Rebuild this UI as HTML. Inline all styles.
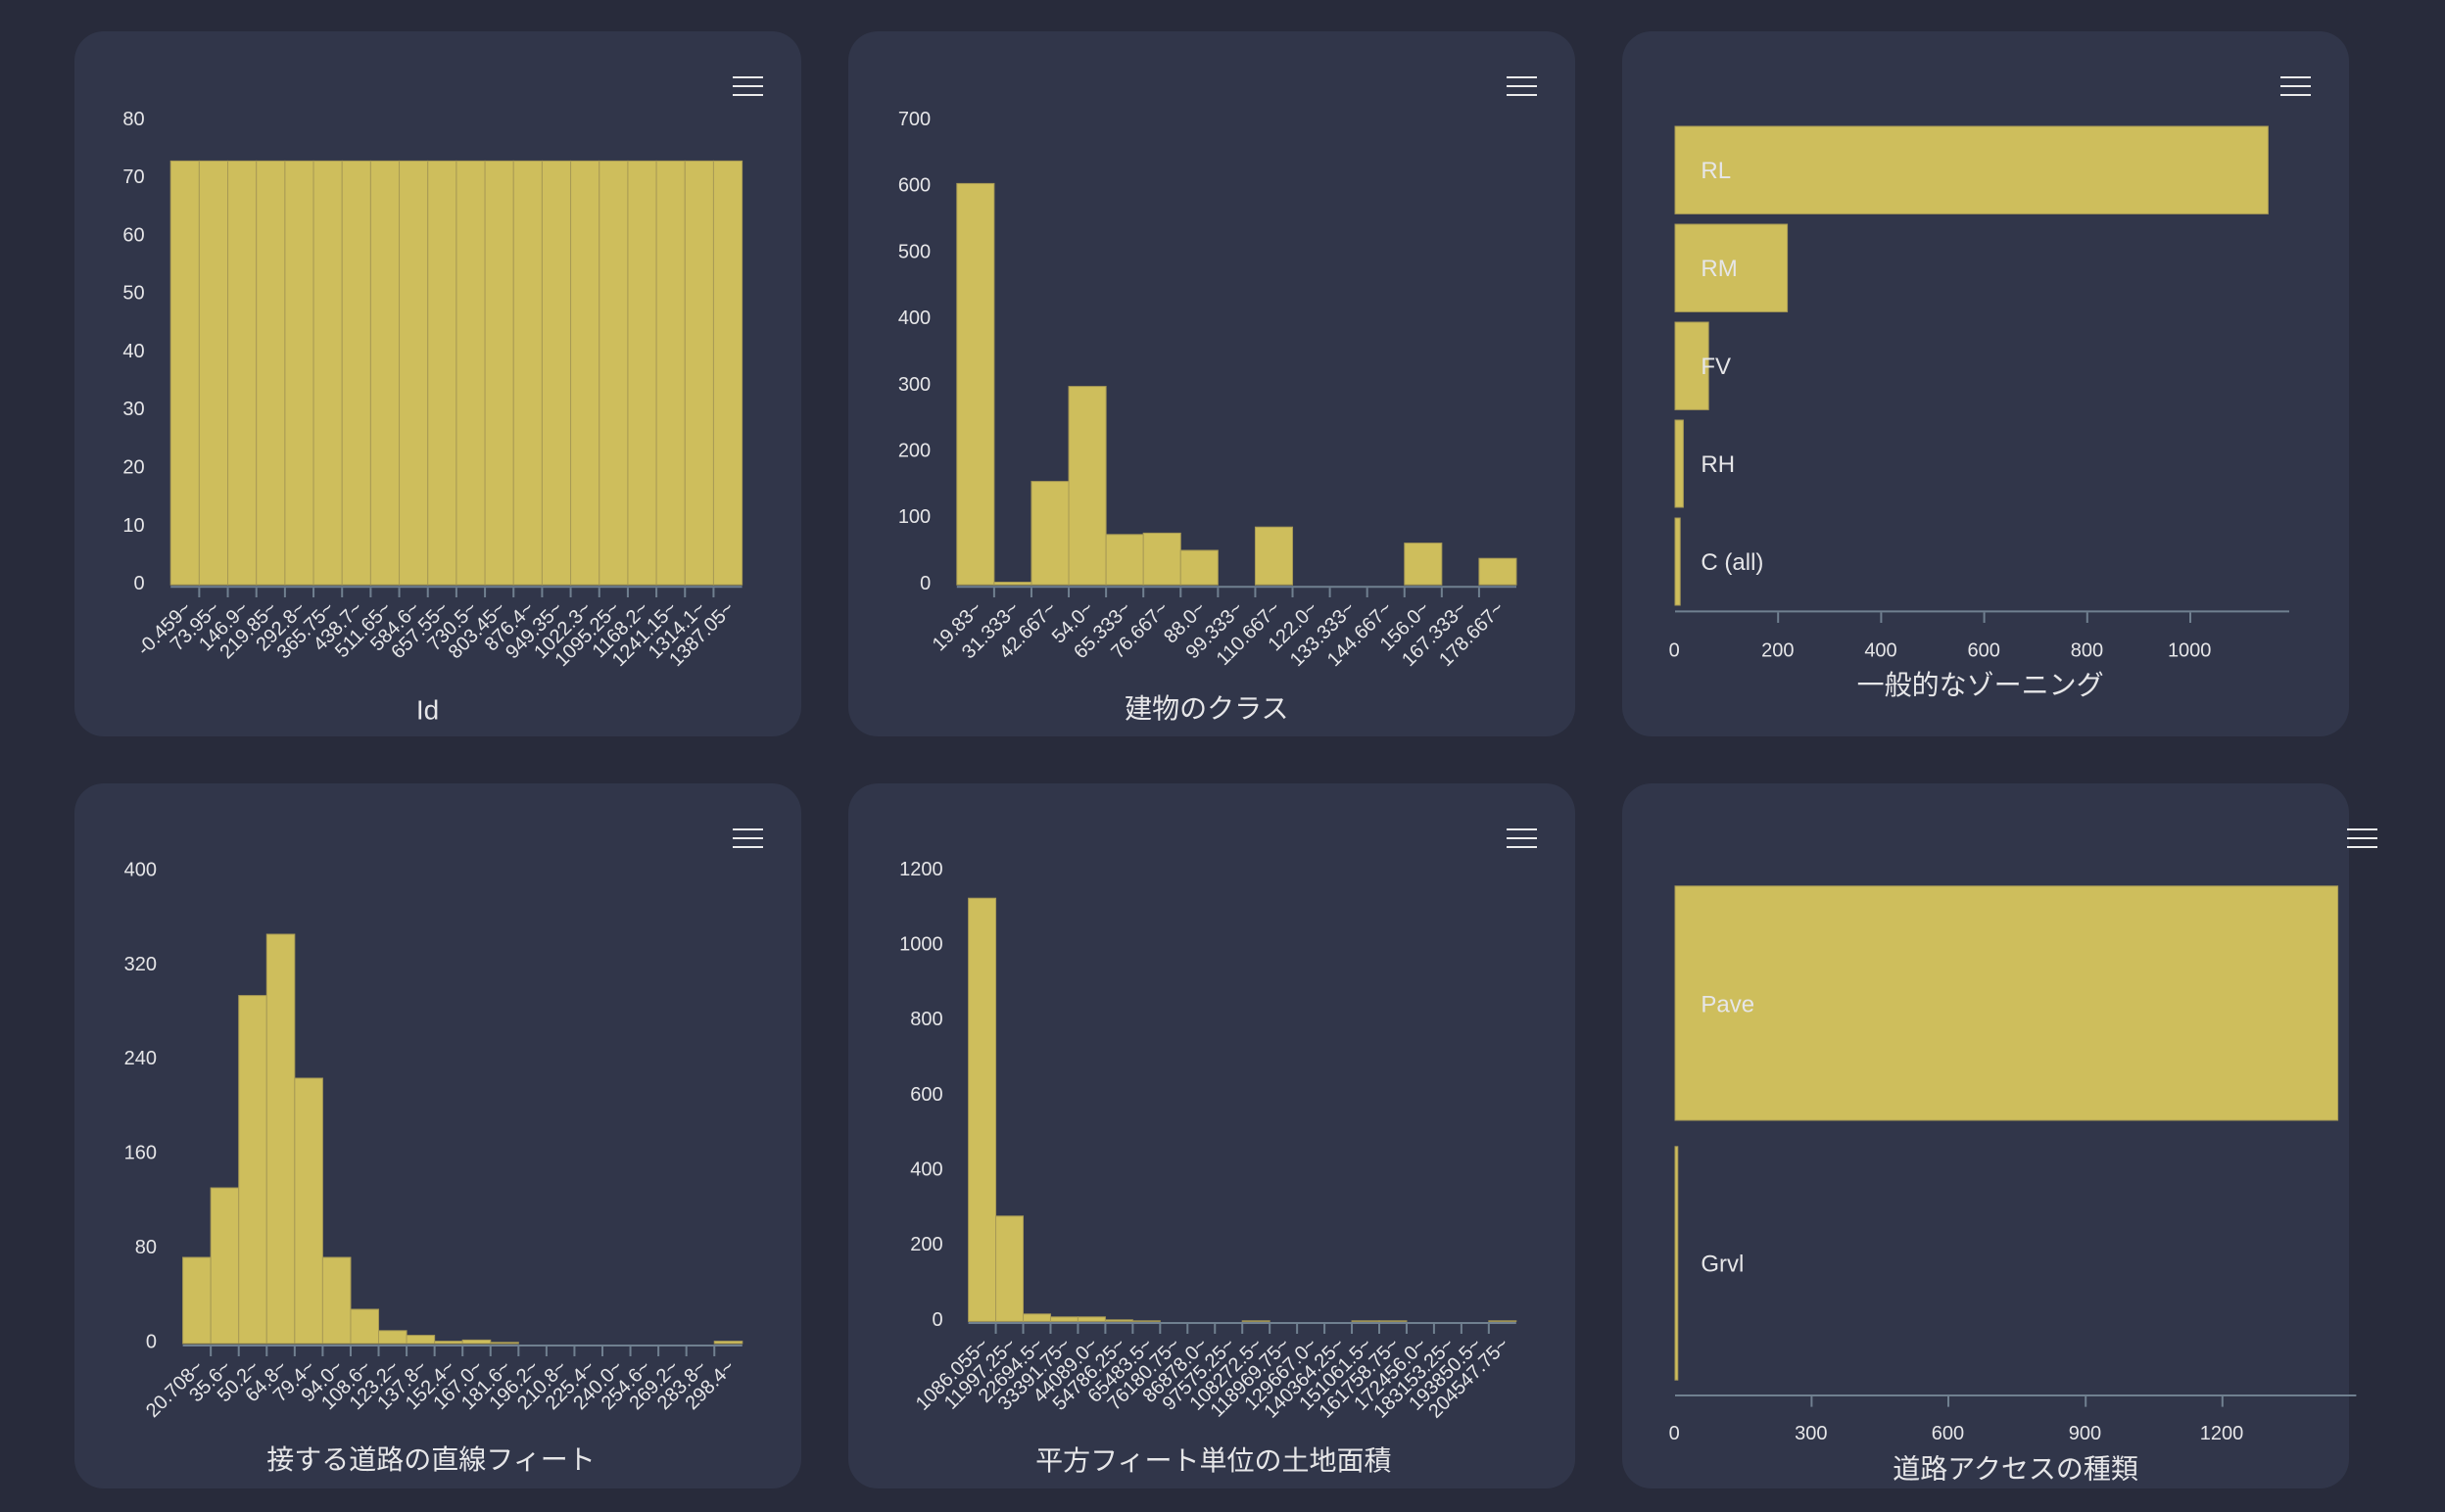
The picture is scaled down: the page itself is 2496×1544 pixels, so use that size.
<!DOCTYPE html>
<html><head><meta charset="utf-8"><style>
html,body{margin:0;padding:0;background:#282b3b;}
svg{display:block;}
text{font-family:"Liberation Sans","Noto Sans CJK JP",sans-serif;fill:#e6e6e8;}
.ax{font-size:10px;}
.xl{font-size:10px;}
.cat{font-size:12px;}
.ttl{font-size:14px;}
.bar{fill:#cebe5c;stroke:#a89a55;stroke-width:0.5;}
.axl{stroke:#708090;stroke-width:1;}
.tk{stroke:#708090;stroke-width:1;}
.hb{fill:#ececec;}
</style></head><body>
<svg width="2496" height="1544" viewBox="0 0 1248 772" xmlns="http://www.w3.org/2000/svg">
<rect x="0" y="0" width="1248" height="772" fill="#282b3b"/>
<!-- panels -->
<rect x="38" y="16" width="371" height="360" rx="15" fill="#31364a"/>
<rect x="433" y="16" width="371" height="360" rx="15" fill="#31364a"/>
<rect x="828" y="16" width="371" height="360" rx="15" fill="#31364a"/>
<rect x="38" y="400" width="371" height="360" rx="15" fill="#31364a"/>
<rect x="433" y="400" width="371" height="360" rx="15" fill="#31364a"/>
<rect x="828" y="400" width="371" height="360" rx="15" fill="#31364a"/>

<!-- hamburgers -->
<g class="hb">
<rect x="374" y="39" width="15.5" height="1"/><rect x="374" y="43.5" width="15.5" height="1"/><rect x="374" y="48" width="15.5" height="1"/>
<rect x="769" y="39" width="15.5" height="1"/><rect x="769" y="43.5" width="15.5" height="1"/><rect x="769" y="48" width="15.5" height="1"/>
<rect x="1164" y="39" width="15.5" height="1"/><rect x="1164" y="43.5" width="15.5" height="1"/><rect x="1164" y="48" width="15.5" height="1"/>
<rect x="374" y="423" width="15.5" height="1"/><rect x="374" y="427.5" width="15.5" height="1"/><rect x="374" y="432" width="15.5" height="1"/>
<rect x="769" y="423" width="15.5" height="1"/><rect x="769" y="427.5" width="15.5" height="1"/><rect x="769" y="432" width="15.5" height="1"/>
<rect x="1198" y="423" width="15.5" height="1"/><rect x="1198" y="427.5" width="15.5" height="1"/><rect x="1198" y="432" width="15.5" height="1"/>
</g>

<!-- ============ PANEL 1: Id ============ -->
<g class="ax" text-anchor="end">
<text x="73.8" y="301.0">0</text><text x="73.8" y="271.4">10</text><text x="73.8" y="241.7">20</text><text x="73.8" y="212.1">30</text><text x="73.8" y="182.5">40</text><text x="73.8" y="152.8">50</text><text x="73.8" y="123.2">60</text><text x="73.8" y="93.5">70</text><text x="73.8" y="63.9">80</text>
</g>
<g>
<rect class="bar" x="87.10" y="82.2" width="14.585" height="216.4"/>
<rect class="bar" x="101.69" y="82.2" width="14.585" height="216.4"/>
<rect class="bar" x="116.27" y="82.2" width="14.585" height="216.4"/>
<rect class="bar" x="130.86" y="82.2" width="14.585" height="216.4"/>
<rect class="bar" x="145.44" y="82.2" width="14.585" height="216.4"/>
<rect class="bar" x="160.03" y="82.2" width="14.585" height="216.4"/>
<rect class="bar" x="174.61" y="82.2" width="14.585" height="216.4"/>
<rect class="bar" x="189.20" y="82.2" width="14.585" height="216.4"/>
<rect class="bar" x="203.78" y="82.2" width="14.585" height="216.4"/>
<rect class="bar" x="218.37" y="82.2" width="14.585" height="216.4"/>
<rect class="bar" x="232.95" y="82.2" width="14.585" height="216.4"/>
<rect class="bar" x="247.54" y="82.2" width="14.585" height="216.4"/>
<rect class="bar" x="262.12" y="82.2" width="14.585" height="216.4"/>
<rect class="bar" x="276.71" y="82.2" width="14.585" height="216.4"/>
<rect class="bar" x="291.29" y="82.2" width="14.585" height="216.4"/>
<rect class="bar" x="305.88" y="82.2" width="14.585" height="216.4"/>
<rect class="bar" x="320.46" y="82.2" width="14.585" height="216.4"/>
<rect class="bar" x="335.05" y="82.2" width="14.585" height="216.4"/>
<rect class="bar" x="349.63" y="82.2" width="14.585" height="216.4"/>
<rect class="bar" x="364.22" y="82.2" width="14.585" height="216.4"/>
</g>
<line class="axl" x1="87.1" y1="299.6" x2="378.8" y2="299.6"/>
<path class="tk" d="M101.69 300.1V305M116.27 300.1V305M130.86 300.1V305M145.44 300.1V305M160.03 300.1V305M174.61 300.1V305M189.2 300.1V305M203.78 300.1V305M218.37 300.1V305M232.95 300.1V305M247.54 300.1V305M262.12 300.1V305M276.71 300.1V305M291.29 300.1V305M305.88 300.1V305M320.46 300.1V305M335.05 300.1V305M349.63 300.1V305M364.22 300.1V305"/>
<g class="xl" text-anchor="end">
<text transform="translate(98.19,311.1) rotate(-45)">-0.459~</text>
<text transform="translate(112.78,311.1) rotate(-45)">73.95~</text>
<text transform="translate(127.36,311.1) rotate(-45)">146.9~</text>
<text transform="translate(141.95,311.1) rotate(-45)">219.85~</text>
<text transform="translate(156.53,311.1) rotate(-45)">292.8~</text>
<text transform="translate(171.12,311.1) rotate(-45)">365.75~</text>
<text transform="translate(185.70,311.1) rotate(-45)">438.7~</text>
<text transform="translate(200.29,311.1) rotate(-45)">511.65~</text>
<text transform="translate(214.87,311.1) rotate(-45)">584.6~</text>
<text transform="translate(229.46,311.1) rotate(-45)">657.55~</text>
<text transform="translate(244.04,311.1) rotate(-45)">730.5~</text>
<text transform="translate(258.63,311.1) rotate(-45)">803.45~</text>
<text transform="translate(273.21,311.1) rotate(-45)">876.4~</text>
<text transform="translate(287.80,311.1) rotate(-45)">949.35~</text>
<text transform="translate(302.38,311.1) rotate(-45)">1022.3~</text>
<text transform="translate(316.97,311.1) rotate(-45)">1095.25~</text>
<text transform="translate(331.55,311.1) rotate(-45)">1168.2~</text>
<text transform="translate(346.14,311.1) rotate(-45)">1241.15~</text>
<text transform="translate(360.72,311.1) rotate(-45)">1314.1~</text>
<text transform="translate(375.31,311.1) rotate(-45)">1387.05~</text>
</g>
<text class="ttl" x="218.3" y="362.4" text-anchor="middle" dominant-baseline="central">Id</text>

<!-- ============ PANEL 2: 建物のクラス ============ -->
<g class="ax" text-anchor="end">
<text x="475.1" y="301.0">0</text><text x="475.1" y="267.1">100</text><text x="475.1" y="233.3">200</text><text x="475.1" y="199.4">300</text><text x="475.1" y="165.5">400</text><text x="475.1" y="131.7">500</text><text x="475.1" y="97.8">600</text><text x="475.1" y="63.9">700</text>
</g>
<g>
<rect class="bar" x="488.40" y="93.7" width="19.04" height="204.9"/>
<rect class="bar" x="507.44" y="297.25" width="19.04" height="1.35"/>
<rect class="bar" x="526.48" y="245.8" width="19.04" height="52.8"/>
<rect class="bar" x="545.52" y="197.3" width="19.04" height="101.3"/>
<rect class="bar" x="564.56" y="272.9" width="19.04" height="25.7"/>
<rect class="bar" x="583.60" y="272.2" width="19.04" height="26.4"/>
<rect class="bar" x="602.64" y="281.0" width="19.04" height="17.6"/>
<rect class="bar" x="640.72" y="269.1" width="19.04" height="29.5"/>
<rect class="bar" x="716.88" y="277.3" width="19.04" height="21.3"/>
<rect class="bar" x="754.96" y="285.1" width="19.04" height="13.5"/>
</g>
<line class="axl" x1="488.4" y1="299.6" x2="774" y2="299.6"/>
<path class="tk" d="M507.44 300.1V305M526.48 300.1V305M545.52 300.1V305M564.56 300.1V305M583.6 300.1V305M602.64 300.1V305M621.68 300.1V305M640.72 300.1V305M659.76 300.1V305M678.8 300.1V305M697.84 300.1V305M716.88 300.1V305M735.92 300.1V305M754.96 300.1V305"/>
<g class="xl" text-anchor="end">
<text transform="translate(501.72,311.1) rotate(-45)">19.83~</text>
<text transform="translate(520.76,311.1) rotate(-45)">31.333~</text>
<text transform="translate(539.80,311.1) rotate(-45)">42.667~</text>
<text transform="translate(558.84,311.1) rotate(-45)">54.0~</text>
<text transform="translate(577.88,311.1) rotate(-45)">65.333~</text>
<text transform="translate(596.92,311.1) rotate(-45)">76.667~</text>
<text transform="translate(615.96,311.1) rotate(-45)">88.0~</text>
<text transform="translate(635.00,311.1) rotate(-45)">99.333~</text>
<text transform="translate(654.04,311.1) rotate(-45)">110.667~</text>
<text transform="translate(673.08,311.1) rotate(-45)">122.0~</text>
<text transform="translate(692.12,311.1) rotate(-45)">133.333~</text>
<text transform="translate(711.16,311.1) rotate(-45)">144.667~</text>
<text transform="translate(730.20,311.1) rotate(-45)">156.0~</text>
<text transform="translate(749.24,311.1) rotate(-45)">167.333~</text>
<text transform="translate(768.28,311.1) rotate(-45)">178.667~</text>
</g>
<text class="ttl" x="615.9" y="361.8" text-anchor="middle" dominant-baseline="central">建物のクラス</text>

<!-- ============ PANEL 3: 一般的なゾーニング ============ -->
<g>
<rect class="bar" x="855" y="64.5" width="302.7" height="44.7"/>
<rect class="bar" x="855" y="114.5" width="57.3" height="44.7"/>
<rect class="bar" x="855" y="164.5" width="17.1" height="44.7"/>
<rect class="bar" x="855" y="214.5" width="4.2" height="44.5"/>
<rect class="bar" x="855" y="264.5" width="2.6" height="44.5"/>
</g>
<g class="cat">
<text x="868.2" y="91.1">RL</text>
<text x="868.2" y="141.1">RM</text>
<text x="868.2" y="191.1">FV</text>
<text x="868.2" y="241.1">RH</text>
<text x="868.2" y="291.1">C (all)</text>
</g>
<line class="axl" x1="855" y1="312.2" x2="1168.5" y2="312.2"/>
<path class="tk" d="M907.6 312.7V318M960.2 312.7V318M1012.8 312.7V318M1065.4 312.7V318M1118 312.7V318"/>
<g class="ax" text-anchor="middle">
<text x="854.6" y="335.3">0</text><text x="907.4" y="335.3">200</text><text x="960.0" y="335.3">400</text><text x="1012.6" y="335.3">600</text><text x="1065.2" y="335.3">800</text><text x="1117.6" y="335.3">1000</text>
</g>
<text class="ttl" x="1010.8" y="349.7" text-anchor="middle" dominant-baseline="central">一般的なゾーニング</text>

<!-- ============ PANEL 4: 接する道路の直線フィート ============ -->
<g class="ax" text-anchor="end">
<text x="80" y="688.2">0</text><text x="80" y="640.0">80</text><text x="80" y="591.8">160</text><text x="80" y="543.6">240</text><text x="80" y="495.5">320</text><text x="80" y="447.3">400</text>
</g>
<g>
<rect class="bar" x="93.30" y="642.0" width="14.28" height="44.0"/>
<rect class="bar" x="107.58" y="606.5" width="14.28" height="79.5"/>
<rect class="bar" x="121.86" y="508.3" width="14.28" height="177.7"/>
<rect class="bar" x="136.14" y="477.0" width="14.28" height="209.0"/>
<rect class="bar" x="150.42" y="550.5" width="14.28" height="135.5"/>
<rect class="bar" x="164.70" y="642.0" width="14.28" height="44.0"/>
<rect class="bar" x="178.98" y="668.5" width="14.28" height="17.5"/>
<rect class="bar" x="193.26" y="679.4" width="14.28" height="6.6"/>
<rect class="bar" x="207.54" y="681.8" width="14.28" height="4.2"/>
<rect class="bar" x="221.82" y="684.8" width="14.28" height="1.2"/>
<rect class="bar" x="236.10" y="684.2" width="14.28" height="1.8"/>
<rect class="bar" x="250.38" y="685.4" width="14.28" height="0.6"/>
<rect class="bar" x="364.62" y="684.8" width="14.28" height="1.2"/>
</g>
<line class="axl" x1="93.3" y1="687" x2="378.9" y2="687"/>
<path class="tk" d="M107.58 687.5V692.5M121.86 687.5V692.5M136.14 687.5V692.5M150.42 687.5V692.5M164.7 687.5V692.5M178.98 687.5V692.5M193.26 687.5V692.5M207.54 687.5V692.5M221.82 687.5V692.5M236.1 687.5V692.5M250.38 687.5V692.5M264.66 687.5V692.5M278.94 687.5V692.5M293.22 687.5V692.5M307.5 687.5V692.5M321.78 687.5V692.5M336.06 687.5V692.5M350.34 687.5V692.5M364.62 687.5V692.5"/>
<g class="xl" text-anchor="end">
<text transform="translate(104.24,698.5) rotate(-45)">20.708~</text>
<text transform="translate(118.52,698.5) rotate(-45)">35.6~</text>
<text transform="translate(132.80,698.5) rotate(-45)">50.2~</text>
<text transform="translate(147.08,698.5) rotate(-45)">64.8~</text>
<text transform="translate(161.36,698.5) rotate(-45)">79.4~</text>
<text transform="translate(175.64,698.5) rotate(-45)">94.0~</text>
<text transform="translate(189.92,698.5) rotate(-45)">108.6~</text>
<text transform="translate(204.20,698.5) rotate(-45)">123.2~</text>
<text transform="translate(218.48,698.5) rotate(-45)">137.8~</text>
<text transform="translate(232.76,698.5) rotate(-45)">152.4~</text>
<text transform="translate(247.04,698.5) rotate(-45)">167.0~</text>
<text transform="translate(261.32,698.5) rotate(-45)">181.6~</text>
<text transform="translate(275.60,698.5) rotate(-45)">196.2~</text>
<text transform="translate(289.88,698.5) rotate(-45)">210.8~</text>
<text transform="translate(304.16,698.5) rotate(-45)">225.4~</text>
<text transform="translate(318.44,698.5) rotate(-45)">240.0~</text>
<text transform="translate(332.72,698.5) rotate(-45)">254.6~</text>
<text transform="translate(347.00,698.5) rotate(-45)">269.2~</text>
<text transform="translate(361.28,698.5) rotate(-45)">283.8~</text>
<text transform="translate(375.56,698.5) rotate(-45)">298.4~</text>
</g>
<text class="ttl" x="220" y="745.2" text-anchor="middle" dominant-baseline="central">接する道路の直線フィート</text>

<!-- ============ PANEL 5: 平方フィート単位の土地面積 ============ -->
<g class="ax" text-anchor="end">
<text x="481.3" y="676.9">0</text><text x="481.3" y="638.6">200</text><text x="481.3" y="600.3">400</text><text x="481.3" y="562.0">600</text><text x="481.3" y="523.6">800</text><text x="481.3" y="485.3">1000</text><text x="481.3" y="447.0">1200</text>
</g>
<g>
<rect class="bar" x="494.30" y="458.6" width="13.98" height="216.1"/>
<rect class="bar" x="508.28" y="620.9" width="13.98" height="53.8"/>
<rect class="bar" x="522.26" y="670.9" width="13.98" height="3.8"/>
<rect class="bar" x="536.24" y="672.4" width="13.98" height="2.3"/>
<rect class="bar" x="550.22" y="672.4" width="13.98" height="2.3"/>
<rect class="bar" x="564.20" y="673.9" width="13.98" height="0.8"/>
<rect class="bar" x="578.18" y="674.4" width="13.98" height="0.3"/>
<rect class="bar" x="634.10" y="674.4" width="13.98" height="0.3"/>
<rect class="bar" x="690.02" y="674.4" width="13.98" height="0.3"/>
<rect class="bar" x="704.00" y="674.4" width="13.98" height="0.3"/>
<rect class="bar" x="759.92" y="674.4" width="13.98" height="0.3"/>
</g>
<line class="axl" x1="494.3" y1="675.5" x2="773.9" y2="675.5"/>
<path class="tk" d="M508.28 676V681M522.26 676V681M536.24 676V681M550.22 676V681M564.2 676V681M578.18 676V681M592.16 676V681M606.14 676V681M620.12 676V681M634.1 676V681M648.08 676V681M662.06 676V681M676.04 676V681M690.02 676V681M704 676V681M717.98 676V681M731.96 676V681M745.94 676V681M759.92 676V681"/>
<g class="xl" text-anchor="end">
<text transform="translate(505.09,687) rotate(-45)">1086.055~</text>
<text transform="translate(519.07,687) rotate(-45)">11997.25~</text>
<text transform="translate(533.05,687) rotate(-45)">22694.5~</text>
<text transform="translate(547.03,687) rotate(-45)">33391.75~</text>
<text transform="translate(561.01,687) rotate(-45)">44089.0~</text>
<text transform="translate(574.99,687) rotate(-45)">54786.25~</text>
<text transform="translate(588.97,687) rotate(-45)">65483.5~</text>
<text transform="translate(602.95,687) rotate(-45)">76180.75~</text>
<text transform="translate(616.93,687) rotate(-45)">86878.0~</text>
<text transform="translate(630.91,687) rotate(-45)">97575.25~</text>
<text transform="translate(644.89,687) rotate(-45)">108272.5~</text>
<text transform="translate(658.87,687) rotate(-45)">118969.75~</text>
<text transform="translate(672.85,687) rotate(-45)">129667.0~</text>
<text transform="translate(686.83,687) rotate(-45)">140364.25~</text>
<text transform="translate(700.81,687) rotate(-45)">151061.5~</text>
<text transform="translate(714.79,687) rotate(-45)">161758.75~</text>
<text transform="translate(728.77,687) rotate(-45)">172456.0~</text>
<text transform="translate(742.75,687) rotate(-45)">183153.25~</text>
<text transform="translate(756.73,687) rotate(-45)">193850.5~</text>
<text transform="translate(770.71,687) rotate(-45)">204547.75~</text>
</g>
<text class="ttl" x="619.4" y="745.8" text-anchor="middle" dominant-baseline="central">平方フィート単位の土地面積</text>

<!-- ============ PANEL 6: 道路アクセスの種類 ============ -->
<g>
<rect class="bar" x="855" y="452.4" width="338.3" height="119.6"/>
<rect class="bar" x="855" y="585.4" width="1.4" height="119.2"/>
</g>
<g class="cat">
<text x="868.2" y="516.8">Pave</text>
<text x="868.2" y="649.2">Grvl</text>
</g>
<line class="axl" x1="855" y1="712.5" x2="1202.7" y2="712.5"/>
<path class="tk" d="M924.7 713V718.3M994.5 713V718.3M1064.6 713V718.3M1134.4 713V718.3"/>
<g class="ax" text-anchor="middle">
<text x="854.6" y="735.0">0</text><text x="924.4" y="735.0">300</text><text x="994.2" y="735.0">600</text><text x="1064.2" y="735.0">900</text><text x="1134.0" y="735.0">1200</text>
</g>
<text class="ttl" x="1028.8" y="750" text-anchor="middle" dominant-baseline="central">道路アクセスの種類</text>
</svg>
</body></html>
